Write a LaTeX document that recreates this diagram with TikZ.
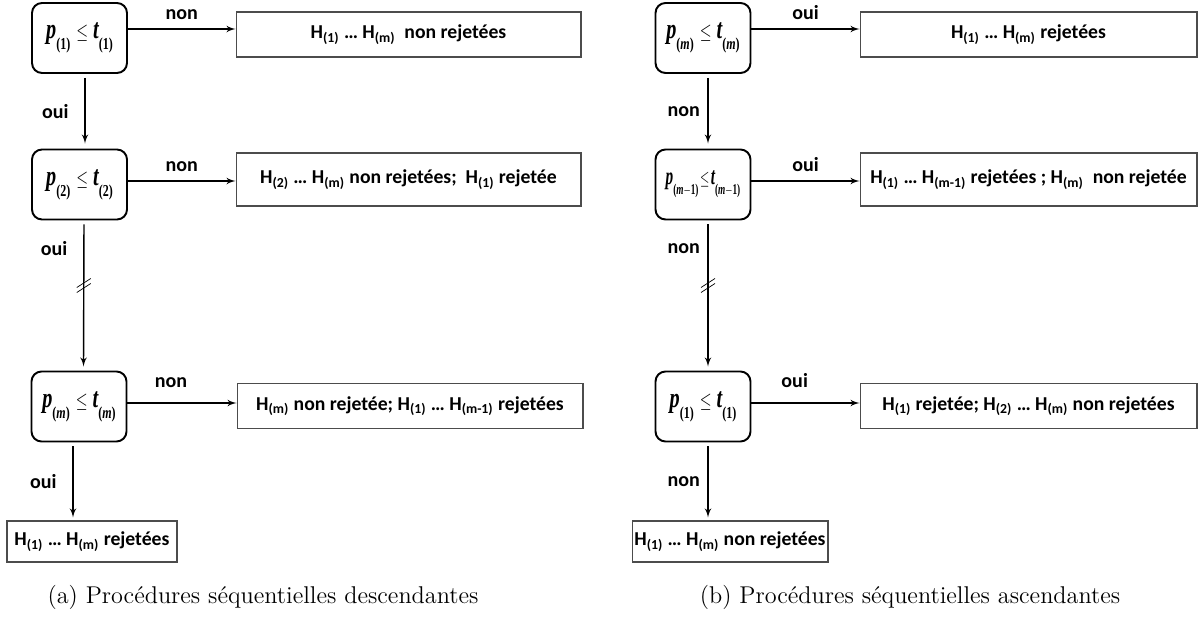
\documentclass[tikz,border=0pt]{standalone}
\usepackage{fontspec}
\usepackage{graphicx}
\usepackage{tikz}
\usetikzlibrary{arrows}
\usetikzlibrary{calc}
\newfontfamily\calib{Carlito}
\newfontfamily\tnr{Liberation Serif}
\tikzstyle{decision} = [draw, rectangle, rounded corners=0.2cm, line width=1.1pt, minimum width=1.9cm, minimum height=1.4cm, inner sep=0pt]
\tikzstyle{result} = [draw=black!70, rectangle, line width=0.6pt, minimum height=0.9cm, inner sep=0pt, font=\calib\bfseries\fontsize{11.2}{14}\selectfont]
\tikzstyle{choice} = [font=\calib\bfseries\fontsize{11.4}{14}\selectfont]
\tikzstyle{flow} = [->, line width=0.8pt]
\tikzstyle{legend} = [font=\fontsize{13.8}{16}\selectfont]
% p_(i) <= t_(i), squeezed as in the original
\newcommand{\seuil}[1]{\scalebox{0.72}[1]{\tnr\bfseries\fontsize{16}{16}\selectfont\itshape p\raisebox{-0.4em}{\upshape\fontsize{9.5}{9.5}\selectfont(#1)}\hspace{0.3em}{\fontsize{12}{12}\selectfont$\leq$}\hspace{0.25em}t\raisebox{-0.4em}{\upshape\fontsize{9.5}{9.5}\selectfont(#1)}}}
\newcommand{\seuilp}[1]{\scalebox{0.62}[1]{\tnr\bfseries\fontsize{14}{14}\selectfont\itshape p\raisebox{-0.4em}{\upshape\fontsize{8.5}{8.5}\selectfont(#1)}\hspace{0.1em}{\fontsize{11}{11}\selectfont$\leq$}\hspace{0.1em}t\raisebox{-0.4em}{\upshape\fontsize{8.5}{8.5}\selectfont(#1)}}}
\newcommand{\Hs}[1]{H\textsubscript{(#1)}}

\begin{document}
\begin{tikzpicture}[>=latex', x=0.02cm, y=-0.02cm]
    \useasboundingbox (0,0) rectangle (1199,634);

    % (a) descendantes
    \node[decision, name=a1] at (79.5,38) {\seuil{1}};
    \node[decision, name=a2] at (79.5,184.5) {\seuil{2}};
    \node[decision, name=a3] at (79,406.5) {\seuil{\textit{m}}};
    \node[result, minimum width=6.9cm, name=ra1] at (408.5,34.5) {\Hs{1} … \Hs{m}\ \ non rejetées};
    \node[result, minimum width=6.9cm, minimum height=1.06cm, name=ra2] at (408.5,179.5) {\Hs{2} … \Hs{m} non rejetées;\ \ \Hs{1} rejetée};
    \node[result, minimum width=6.92cm, name=ra3] at (410,406) {\Hs{m} non rejetée; \Hs{1} … \Hs{m-1} rejetées};
    \node[result, minimum width=3.4cm, minimum height=0.82cm, name=ra4] at (92,541.5) {\Hs{1} … \Hs{m} rejetées};

    \draw[flow] ([yshift=0.18cm]a1.east) -- ([yshift=0.18cm]a1.east -| ra1.west)
       node[choice, midway, above=0.06cm] {non};
    \draw[flow] ([yshift=0.07cm]a2.east) -- ([yshift=0.07cm]a2.east -| ra2.west)
       node[choice, midway, above=0.06cm] {non};
    \draw[flow] ([yshift=0.07cm]a3.east) -- ([yshift=0.07cm]a3.east -| ra3.west)
       node[choice, pos=0.4, above=0.18cm] {non};
    \draw[flow, shorten <=0.08cm, shorten >=0.1cm] ([xshift=0.11cm]a1.south) -- ([xshift=0.11cm]a2.north)
       node[choice, midway, left=0.2cm] {oui};
    \draw[flow, shorten <=0.08cm, shorten >=0.08cm] ([xshift=0.09cm]a2.south) -- ([xshift=0.09cm]a3.north)
       node[choice, pos=0.19, left=0.2cm] {oui}
       coordinate[pos=0.42] (cut1);
    \draw[flow, shorten <=0.08cm, shorten >=0.06cm] ([xshift=-0.12cm]a3.south) -- ([xshift=-0.12cm]a3.south |- ra4.north)
       node[choice, midway, left=0.2cm] {oui};
    \draw[line width=0.4pt] ($(cut1)+(-7,4)$) -- ($(cut1)+(7,-5)$);
    \draw[line width=0.4pt] ($(cut1)+(-7,9)$) -- ($(cut1)+(7,0)$);

    % (b) ascendantes
    \node[decision, name=b1] at (703,38) {\seuil{\textit{m}}};
    \node[decision, name=b2] at (703,184.5) {\seuilp{\textit{m}$-$1}};
    \node[decision, name=b3] at (703,406.5) {\seuil{1}};
    \node[result, minimum width=6.74cm, name=rb1] at (1028.5,34.5) {\Hs{1} … \Hs{m} rejetées};
    \node[result, minimum width=6.74cm, minimum height=1.06cm, name=rb2] at (1028.5,179.5) {\Hs{1} … \Hs{m-1} rejetées ; \Hs{m}\ \ non rejetée};
    \node[result, minimum width=6.74cm, name=rb3] at (1028.5,406) {\Hs{1} rejetée; \Hs{2} … \Hs{m} non rejetées};
    \node[result, minimum width=3.92cm, minimum height=0.82cm, name=rb4] at (730,541.5) {\Hs{1} … \Hs{m} non rejetées};

    \draw[flow] ([yshift=0.18cm]b1.east) -- ([yshift=0.18cm]b1.east -| rb1.west)
       node[choice, midway, above=0.06cm] {oui};
    \draw[flow] ([yshift=0.07cm]b2.east) -- ([yshift=0.07cm]b2.east -| rb2.west)
       node[choice, midway, above=0.06cm] {oui};
    \draw[flow] ([yshift=0.07cm]b3.east) -- ([yshift=0.07cm]b3.east -| rb3.west)
       node[choice, pos=0.4, above=0.18cm] {oui};
    \draw[flow, shorten <=0.08cm, shorten >=0.1cm] ([xshift=0.1cm]b1.south) -- ([xshift=0.1cm]b2.north)
       node[choice, midway, left=0.03cm] {non};
    \draw[flow, shorten <=0.08cm, shorten >=0.08cm] ([xshift=0.1cm]b2.south) -- ([xshift=0.1cm]b3.north)
       node[choice, pos=0.19, left=0.03cm] {non}
       coordinate[pos=0.42] (cut2);
    \draw[flow, shorten <=0.08cm, shorten >=0.06cm] ([xshift=0.1cm]b3.south) -- ([xshift=0.1cm]b3.south |- rb4.north)
       node[choice, midway, left=0.03cm] {non};
    \draw[line width=0.4pt] ($(cut2)+(-7,4)$) -- ($(cut2)+(7,-5)$);
    \draw[line width=0.4pt] ($(cut2)+(-7,9)$) -- ($(cut2)+(7,0)$);

    \node[legend, name=capa] at (263,597) {(a) Procédures séquentielles descendantes};
    \node[legend, name=capb] at (910,597) {(b) Procédures séquentielles ascendantes};
\end{tikzpicture}
\end{document}
